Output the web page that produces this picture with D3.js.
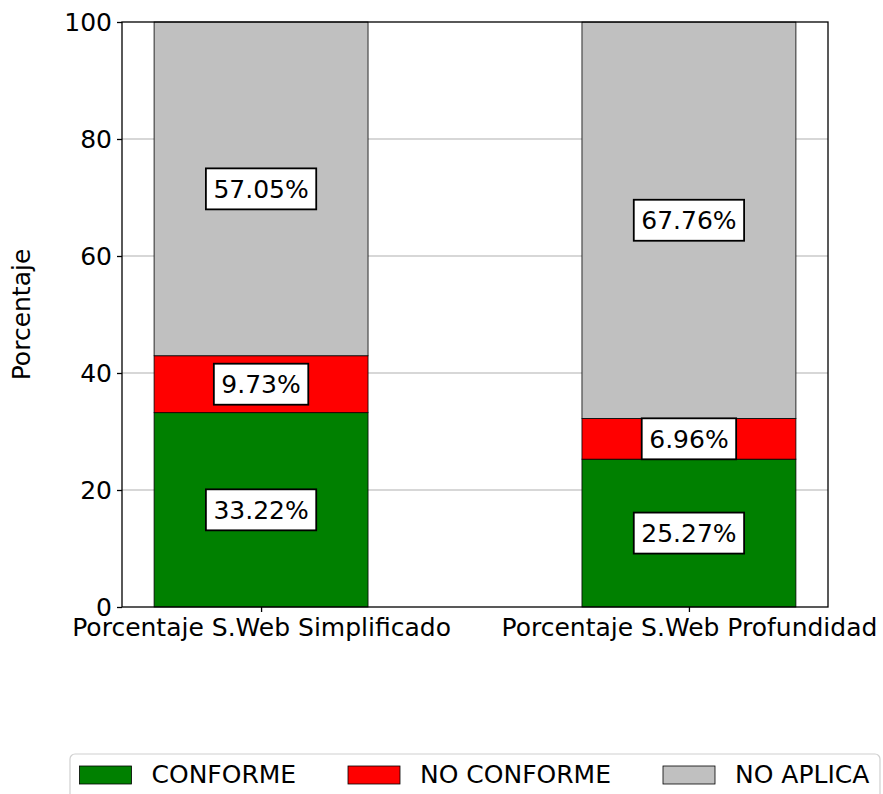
<!DOCTYPE html>
<html>
<head>
<meta charset="utf-8">
<script src="https://cdn.jsdelivr.net/npm/d3@7"></script>
<style>
  html, body { margin: 0; padding: 0; background: #fff; }
  svg { display: block; font-family: "DejaVu Sans", sans-serif; }
</style>
</head>
<body>
<svg id="chart" width="883" height="794"></svg>
<script>
// data
const categories = ["Porcentaje S.Web Simplificado", "Porcentaje S.Web Profundidad"];
const seriesNames = ["CONFORME", "NO CONFORME", "NO APLICA"];
const seriesColors = ["#008000", "#ff0000", "#c0c0c0"];
const conforme = [33.22, 25.27];
const noConforme = [9.73, 6.96];
const noAplica = [57.05, 67.76];
const yTicks = [0, 20, 40, 60, 80, 100];

const W = 883, H = 794;
const m = { left: 122, right: 828, top: 22, bottom: 607 };
const svg = d3.select("#chart");

// bars sit at 0 and 1 with width 0.5, plus matplotlib-ish 5% margins
const x = d3.scaleLinear().domain([-0.325, 1.325]).range([m.left, m.right]);
const y = d3.scaleLinear().domain([0, 100]).range([m.bottom, m.top]);
const barW = x(0.5) - x(0);

// grid behind bars
svg.append("g").selectAll("line")
  .data(yTicks.filter(t => t > 0 && t < 100))
  .enter().append("line")
  .attr("x1", m.left).attr("x2", m.right)
  .attr("y1", d => y(d)).attr("y2", d => y(d))
  .attr("stroke", "#b0b0b0").attr("stroke-width", 1.1);

// stack
const rows = categories.map((c, i) => ({ cat: i, CONFORME: conforme[i], "NO CONFORME": noConforme[i], "NO APLICA": noAplica[i] }));
const stack = d3.stack().keys(seriesNames)(rows);

const layers = svg.append("g").selectAll("g")
  .data(stack).enter().append("g")
  .attr("fill", (d, i) => seriesColors[i]);

layers.selectAll("rect")
  .data(d => d).enter().append("rect")
  .attr("x", d => x(d.data.cat) - barW / 2)
  .attr("width", barW)
  .attr("y", d => y(d[1]))
  .attr("height", d => y(d[0]) - y(d[1]))
  .attr("stroke", "#000").attr("stroke-width", 0.8);

// value labels with white boxes
const labels = [];
stack.forEach((layer, li) => layer.forEach(d => {
  labels.push({ cx: x(d.data.cat), cy: y((d[0] + d[1]) / 2), v: d[1] - d[0] });
}));
const lg = svg.append("g").selectAll("g").data(labels).enter().append("g")
  .attr("transform", d => `translate(${d.cx},${d.cy})`);
lg.append("text")
  .attr("text-anchor", "middle").attr("dy", "0.36em")
  .attr("font-size", 25).attr("fill", "#000")
  .text(d => d.v.toFixed(2) + "%");
lg.each(function () {
  const g = d3.select(this);
  const w = g.select("text").node().getComputedTextLength() + 15;
  g.insert("rect", "text")
    .attr("x", -w / 2).attr("y", -20.5)
    .attr("width", w).attr("height", 41)
    .attr("fill", "#fff").attr("stroke", "#000").attr("stroke-width", 1.8);
});

// axes frame
svg.append("rect")
  .attr("x", m.left).attr("y", m.top)
  .attr("width", m.right - m.left).attr("height", m.bottom - m.top)
  .attr("fill", "none").attr("stroke", "#000").attr("stroke-width", 1.3);

// y axis
const yAxis = svg.append("g").attr("transform", `translate(${m.left},0)`)
  .call(d3.axisLeft(y).tickValues(yTicks).tickSize(5).tickPadding(5));
yAxis.select(".domain").remove();
yAxis.selectAll("line").attr("stroke", "#000").attr("stroke-width", 1.3);
yAxis.selectAll("text").attr("font-size", 25).attr("font-family", "DejaVu Sans").attr("fill", "#000");

// x axis
const xAxis = svg.append("g").attr("transform", `translate(0,${m.bottom})`)
  .call(d3.axisBottom(x).tickValues([0, 1]).tickFormat(i => categories[i]).tickSize(5).tickPadding(6));
xAxis.select(".domain").remove();
xAxis.selectAll("line").attr("stroke", "#000").attr("stroke-width", 1.3);
xAxis.selectAll("text").attr("font-size", 25).attr("font-family", "DejaVu Sans").attr("fill", "#000");

// y label
svg.append("text")
  .attr("transform", `translate(30,${(m.top + m.bottom) / 2}) rotate(-90)`)
  .attr("text-anchor", "middle")
  .attr("font-size", 25).attr("fill", "#000")
  .text("Porcentaje");

// legend
const leg = svg.append("g");
leg.append("rect")
  .attr("x", 70).attr("y", 754).attr("width", 810).attr("height", 60)
  .attr("rx", 5).attr("fill", "#fff").attr("stroke", "#d0d0d0").attr("stroke-width", 1.2);
const legX = [79.5, 348, 663];
const items = leg.selectAll("g.item").data(seriesNames).enter().append("g")
  .attr("transform", (d, i) => `translate(${legX[i]},766)`);
items.append("rect")
  .attr("width", 52).attr("height", 18)
  .attr("fill", (d, i) => seriesColors[i]).attr("stroke", "#000").attr("stroke-width", 0.8);
items.append("text")
  .attr("x", 72).attr("y", 17)
  .attr("font-size", 25).attr("fill", "#000")
  .text(d => d);
</script>
</body>
</html>
